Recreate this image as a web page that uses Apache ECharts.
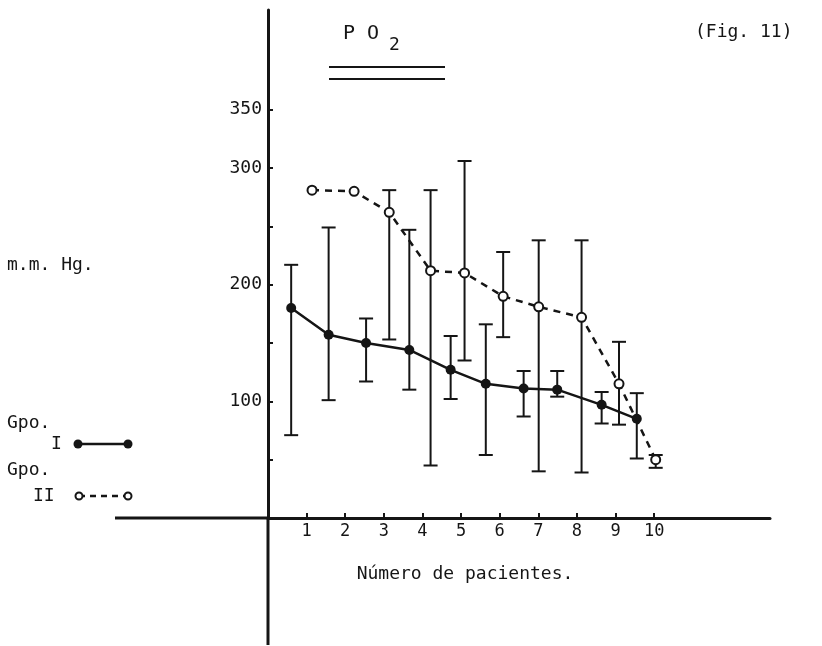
<!DOCTYPE html>
<html><head><meta charset="utf-8">
<script src="https://cdn.jsdelivr.net/npm/echarts@6/dist/echarts.min.js"></script>
<style>html,body{margin:0;padding:0;background:#fff}#c{width:822px;height:646px}</style>
</head><body><div id="c"></div>
<script>
// ---- data ----
const xTickValues = [1, 2, 3, 4, 5, 6, 7, 8, 9, 10];
const yTickValues = [50, 100, 150, 200, 250, 300, 350];
const yLabelValues = [100, 200, 300, 350];

// Group I (solid line, filled dots)
const g1X  = [0.6, 1.57, 2.54, 3.66, 4.73, 5.64, 6.62, 7.49, 8.64, 9.55];
const g1Y  = [180, 157, 150, 144, 127, 115, 111, 110, 97, 85];
const g1Hi = [217, 249, 171, 247, 156, 166, 126, 126, 108, 107];
const g1Lo = [71, 101, 117, 110, 102, 54, 87, 104, 81, 51];

// Group II (dashed line, open dots)
const g2X  = [1.14, 2.23, 3.14, 4.21, 5.09, 6.09, 7.01, 8.12, 9.09, 10.04];
const g2Y  = [281, 280, 262, 212, 210, 190, 181, 172, 115, 50];
const g2Hi = [null, null, 281, 281, 306, 228, 238, 238, 151, 54];
const g2Lo = [null, null, 153, 45, 135, 155, 40, 39, 80, 43];

const FONT = 'DejaVu Sans Mono';
const INK = '#151515';

const chart = echarts.init(document.getElementById('c'), null, {renderer: 'canvas'});

function errSeries(name, xs, his, los) {
  const data = [];
  xs.forEach((x, i) => { if (his[i] != null) data.push([x, los[i], his[i]]); });
  return {
    type: 'custom', name, data, z: 1, silent: true,
    encode: {x: 0, y: [1, 2]},
    renderItem(params, api) {
      const x = api.value(0);
      const lo = api.coord([x, api.value(1)]);
      const hi = api.coord([x, api.value(2)]);
      const w = 7;
      const st = {stroke: INK, lineWidth: 2};
      return {type: 'group', children: [
        {type: 'line', shape: {x1: lo[0], y1: lo[1], x2: hi[0], y2: hi[1]}, style: st},
        {type: 'line', shape: {x1: lo[0] - w, y1: lo[1], x2: lo[0] + w, y2: lo[1]}, style: st},
        {type: 'line', shape: {x1: hi[0] - w, y1: hi[1], x2: hi[0] + w, y2: hi[1]}, style: st}
      ]};
    }
  };
}

const txt = (x, y, s, extra) => Object.assign({
  type: 'text', x, y,
  style: Object.assign({text: s, fontFamily: FONT, fontSize: 18, fill: INK, textVerticalAlign: 'middle'}, extra || {})
});

// plot box: y axis at x=268, x axis at y=518
const GL = 268, GB = 646 - 518;
const option = {
  backgroundColor: '#fff',
  animation: false,
  grid: {left: GL, right: 52, top: 10, bottom: GB},
  xAxis: {
    type: 'value', min: 0, max: 13,
    axisLine: {show: true, lineStyle: {color: INK, width: 3}},
    axisTick: {show: true, inside: true, length: 5, customValues: xTickValues, lineStyle: {color: INK, width: 2}},
    axisLabel: {customValues: xTickValues, fontFamily: FONT, fontSize: 17, color: INK, margin: 5},
    splitLine: {show: false}
  },
  yAxis: {
    type: 'value', min: 0, max: 435.4,
    axisLine: {show: true, lineStyle: {color: INK, width: 3}},
    axisTick: {show: true, inside: true, length: 5, customValues: yTickValues, lineStyle: {color: INK, width: 2}},
    axisLabel: {customValues: yLabelValues, fontFamily: FONT, fontSize: 18, color: INK, margin: 6},
    splitLine: {show: false}
  },
  series: [
    errSeries('Gpo. I err', g1X, g1Hi, g1Lo),
    errSeries('Gpo. II err', g2X, g2Hi, g2Lo),
    {
      name: 'Gpo. I', type: 'line', z: 3,
      data: g1X.map((x, i) => [x, g1Y[i]]),
      symbol: 'circle', symbolSize: 10,
      itemStyle: {color: INK},
      lineStyle: {color: INK, width: 2.5}
    },
    {
      name: 'Gpo. II', type: 'line', z: 3,
      data: g2X.map((x, i) => [x, g2Y[i]]),
      symbol: 'circle', symbolSize: 9,
      itemStyle: {color: '#fff', borderColor: INK, borderWidth: 2},
      lineStyle: {color: INK, width: 2.5, type: [7, 6]}
    }
  ],
  graphic: [
    // axis line extensions beyond the plot box (as drawn in the figure)
    {type: 'line', shape: {x1: 115, y1: 518, x2: GL, y2: 518}, style: {stroke: INK, lineWidth: 3}},
    {type: 'line', shape: {x1: GL, y1: 518, x2: GL, y2: 645}, style: {stroke: INK, lineWidth: 3}},
    txt(343, 34, 'P O', {fontSize: 20}),
    txt(389, 45, '2', {fontSize: 18}),
    {type: 'line', shape: {x1: 329, y1: 67, x2: 445, y2: 67}, style: {stroke: INK, lineWidth: 2}},
    {type: 'line', shape: {x1: 329, y1: 79, x2: 445, y2: 79}, style: {stroke: INK, lineWidth: 2}},
    txt(695, 32, '(Fig. 11)'),
    txt(7, 265, 'm.m. Hg.'),
    txt(7, 423, 'Gpo.'),
    txt(51, 444, 'I'),
    {type: 'line', shape: {x1: 78, y1: 444, x2: 128, y2: 444}, style: {stroke: INK, lineWidth: 2.5}},
    {type: 'circle', shape: {cx: 78, cy: 444, r: 4.5}, style: {fill: INK}},
    {type: 'circle', shape: {cx: 128, cy: 444, r: 4.5}, style: {fill: INK}},
    txt(7, 470, 'Gpo.'),
    txt(33, 496, 'II'),
    {type: 'line', shape: {x1: 79, y1: 496, x2: 128, y2: 496}, style: {stroke: INK, lineWidth: 2.5, lineDash: [6, 5]}},
    {type: 'circle', shape: {cx: 79, cy: 496, r: 3.5}, style: {fill: '#fff', stroke: INK, lineWidth: 2}},
    {type: 'circle', shape: {cx: 128, cy: 496, r: 3.5}, style: {fill: '#fff', stroke: INK, lineWidth: 2}},
    txt(465, 574, 'Número de pacientes.', {textAlign: 'center'})
  ]
};
chart.setOption(option);
</script>
</body></html>
